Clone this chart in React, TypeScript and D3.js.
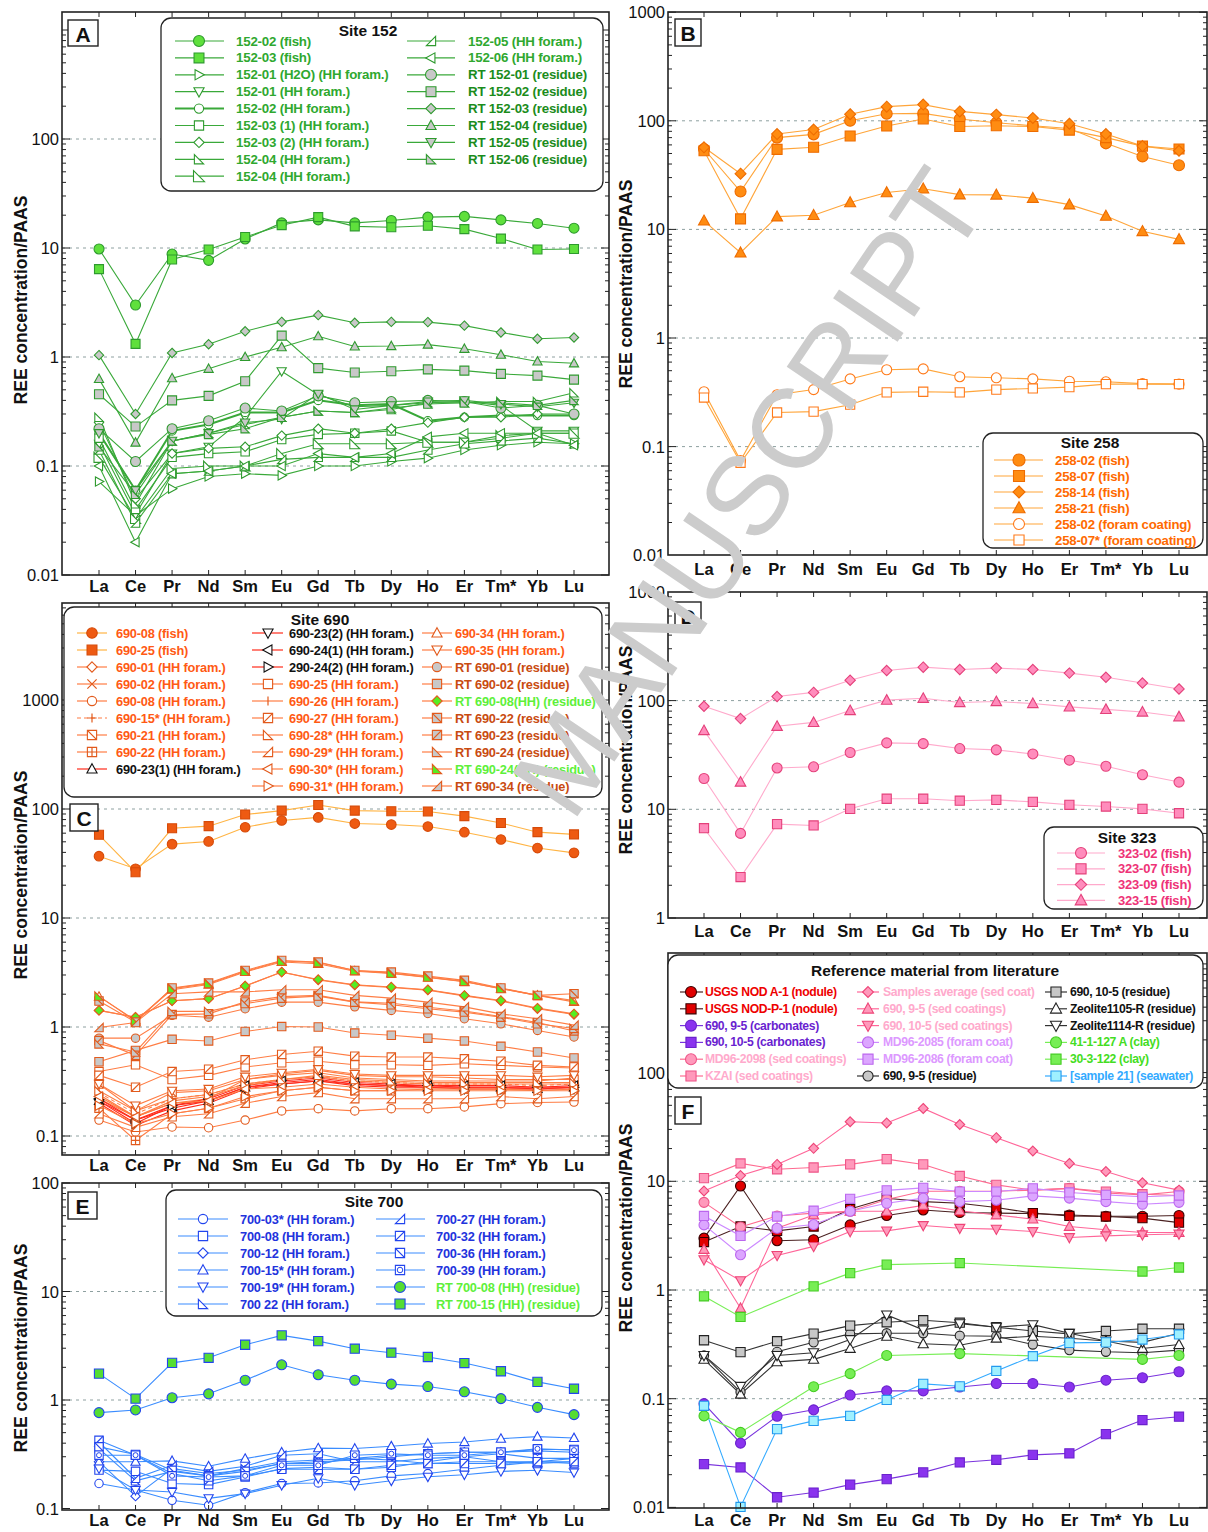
import React from "react";
import * as d3 from "d3";

const ELEMENTS = ["La", "Ce", "Pr", "Nd", "Sm", "Eu", "Gd", "Tb", "Dy", "Ho", "Er", "Tm*", "Yb", "Lu"];

// ---------------- Site 152 (A)
const site152Names = [
  "152-02 (fish)", "152-03 (fish)", "152-01 (H2O) (HH foram.)", "152-01 (HH foram.)", "152-02 (HH foram.)",
  "152-03 (1) (HH foram.)", "152-03 (2) (HH foram.)", "152-04 (HH foram.)", "152-04 (HH foram.)",
  "152-05 (HH foram.)", "152-06 (HH foram.)", "RT 152-01 (residue)", "RT 152-02 (residue)", "RT 152-03 (residue)",
  "RT 152-04 (residue)", "RT 152-05 (residue)", "RT 152-06 (residue)",
];
const site152Values: (number | null)[][] = [
  [9.8, 3.0, 8.8, 7.7, 12.1, 17, 18.1, 17, 17.9, 19.2, 19.5, 18.1, 16.8, 15.2],
  [6.4, 1.32, 7.85, 9.7, 12.6, 16.2, 19.2, 15.8, 15.5, 16, 14.9, 12.2, 9.7, 9.8],
  [0.072, 0.035, 0.062, 0.08, 0.085, 0.082, 0.1, 0.1, 0.11, 0.118, 0.14, 0.155, 0.165, 0.16],
  [0.16, 0.036, 0.13, 0.15, 0.28, 0.74, 0.45, 0.35, 0.36, 0.38, 0.39, 0.36, 0.21, 0.21],
  [0.2, 0.06, 0.21, 0.24, 0.31, 0.31, 0.4, 0.36, 0.37, 0.26, 0.28, 0.29, 0.29, 0.29],
  [0.18, 0.04, 0.12, 0.13, 0.135, 0.175, 0.195, 0.2, 0.21, 0.165, 0.165, 0.18, 0.2, 0.2],
  [0.25, 0.05, 0.13, 0.145, 0.15, 0.19, 0.22, 0.2, 0.22, 0.25, 0.28, 0.28, 0.3, 0.3],
  [0.28, 0.045, 0.17, 0.2, 0.24, 0.28, 0.32, 0.31, 0.33, 0.38, 0.38, 0.39, 0.39, 0.47],
  [0.12, 0.033, 0.095, 0.1, 0.1, 0.13, 0.16, 0.16, 0.16, 0.165, 0.165, 0.19, 0.2, 0.2],
  [0.14, 0.03, 0.085, 0.09, 0.1, 0.115, 0.12, 0.12, 0.12, 0.14, 0.16, 0.17, 0.18, 0.16],
  [0.1, 0.02, 0.085, 0.09, 0.1, 0.1, 0.13, 0.12, 0.13, 0.185, 0.2, 0.2, 0.2, 0.155],
  [0.22, 0.11, 0.22, 0.26, 0.34, 0.32, 0.44, 0.38, 0.39, 0.4, 0.39, 0.34, 0.36, 0.3],
  [0.455, 0.23, 0.4, 0.44, 0.6, 1.57, 0.79, 0.72, 0.74, 0.77, 0.75, 0.7, 0.675, 0.62],
  [1.04, 0.3, 1.09, 1.31, 1.72, 2.1, 2.42, 2.06, 2.1, 2.09, 1.94, 1.68, 1.47, 1.51],
  [0.63, 0.164, 0.64, 0.78, 1.0, 1.23, 1.55, 1.25, 1.26, 1.3, 1.19, 1.05, 0.91, 0.875],
  [0.2, 0.06, 0.17, 0.2, 0.25, 0.27, 0.46, 0.33, 0.36, 0.39, 0.4, 0.37, 0.35, 0.38],
  [0.15, 0.055, 0.17, 0.195, 0.22, 0.28, 0.32, 0.31, 0.34, 0.37, 0.38, 0.38, 0.36, 0.4],
];

// ---------------- Site 258 (B)
const site258Names = ["258-02 (fish)", "258-07 (fish)", "258-14 (fish)", "258-21 (fish)", "258-02 (foram coating)", "258-07* (foram coating)"];
const site258Values: (number | null)[][] = [
  [55, 22.3, 70, 75, 100, 116, 117, 104, 96, 90, 85, 62, 47, 39],
  [53, 12.5, 54.6, 57, 72.5, 89.5, 104, 88.6, 90, 88.6, 82, 70, 58.5, 55],
  [57, 32.6, 75.5, 83, 115, 135, 141, 122, 114, 106, 94, 75.5, 58.5, 53],
  [12, 6.1, 13.1, 13.5, 17.7, 21.9, 23.7, 20.9, 20.8, 19.4, 16.9, 13.3, 9.6, 8.1],
  [0.32, 0.0745, 0.3, 0.335, 0.42, 0.51, 0.52, 0.44, 0.43, 0.42, 0.4, 0.395, 0.38, 0.376],
  [0.283, 0.071, 0.206, 0.21, 0.243, 0.316, 0.32, 0.316, 0.335, 0.343, 0.353, 0.376, 0.376, 0.376],
];

// ---------------- Site 690 (C)
const site690Names = [
  "690-08 (fish)", "690-25 (fish)", "690-01 (HH foram.)", "690-02 (HH foram.)", "690-08 (HH foram.)",
  "690-15* (HH foram.)", "690-21 (HH foram.)", "690-22 (HH foram.)", "690-23(1) (HH foram.)",
  "690-23(2) (HH foram.)", "690-24(1) (HH foram.)", "290-24(2) (HH foram.)", "690-25 (HH foram.)",
  "690-26 (HH foram.)", "690-27 (HH foram.)", "690-28* (HH foram.)", "690-29* (HH foram.)",
  "690-30* (HH foram.)", "690-31* (HH foram.)",
  "690-34 (HH foram.)", "690-35 (HH foram.)", "RT 690-01 (residue)", "RT 690-02 (residue)",
  "RT 690-08(HH) (residue)", "RT 690-22 (residue)", "RT 690-23 (residue)", "RT 690-24 (residue)",
  "RT 690-24(HH) (residue)", "RT 690-34 (residue)",
];
const site690Values: (number | null)[][] = [
  [36.9, 28.3, 47.6, 50.4, 68, 78.4, 83.7, 73.5, 72, 69, 61.3, 52.5, 43.8, 39.6],
  [58, 26.3, 66.5, 69.6, 89, 96.6, 108.9, 96.6, 95.5, 95, 86, 74.5, 61.3, 58.5],
  [1.42, 1.23, 1.74, 1.82, 2.38, 3.19, 2.7, 2.42, 2.3, 2.18, 1.93, 1.73, 1.47, 1.3],
  [0.22, 0.15, 0.2, 0.22, 0.33, 0.36, 0.38, 0.34, 0.33, 0.32, 0.32, 0.32, 0.32, 0.34],
  [0.14, 0.109, 0.121, 0.119, 0.14, 0.17, 0.178, 0.17, 0.178, 0.178, 0.185, 0.198, 0.203, 0.205],
  [0.25, 0.16, 0.22, 0.24, 0.3, 0.33, 0.35, 0.32, 0.31, 0.3, 0.3, 0.3, 0.29, 0.3],
  [0.3, 0.17, 0.25, 0.26, 0.33, 0.37, 0.4, 0.36, 0.35, 0.35, 0.34, 0.33, 0.33, 0.33],
  [0.18, 0.091, 0.16, 0.18, 0.22, 0.26, 0.28, 0.26, 0.26, 0.27, 0.27, 0.27, 0.27, 0.28],
  [0.21, 0.14, 0.18, 0.21, 0.28, 0.31, 0.33, 0.3, 0.29, 0.28, 0.28, 0.28, 0.27, 0.28],
  [0.2, 0.125, 0.17, 0.2, 0.27, 0.3, 0.32, 0.29, 0.28, 0.28, 0.27, 0.27, 0.27, 0.27],
  [0.22, 0.14, 0.19, 0.22, 0.29, 0.32, 0.34, 0.31, 0.3, 0.29, 0.29, 0.29, 0.28, 0.29],
  [0.21, 0.13, 0.19, 0.21, 0.28, 0.3, 0.32, 0.3, 0.29, 0.29, 0.28, 0.28, 0.28, 0.28],
  [0.39, 0.45, 0.33, 0.36, 0.43, 0.47, 0.485, 0.45, 0.45, 0.445, 0.46, 0.445, 0.43, 0.42],
  [0.24, 0.15, 0.21, 0.23, 0.29, 0.33, 0.35, 0.32, 0.31, 0.3, 0.3, 0.3, 0.3, 0.3],
  [0.36, 0.28, 0.39, 0.41, 0.5, 0.56, 0.6, 0.54, 0.53, 0.53, 0.51, 0.485, 0.445, 0.43],
  [0.26, 0.17, 0.22, 0.24, 0.3, 0.33, 0.36, 0.33, 0.32, 0.31, 0.31, 0.31, 0.31, 0.31],
  [0.16, 0.12, 0.15, 0.16, 0.2, 0.23, 0.25, 0.22, 0.22, 0.22, 0.22, 0.23, 0.22, 0.23],
  [0.23, 0.15, 0.2, 0.21, 0.27, 0.28, 0.3, 0.28, 0.27, 0.27, 0.27, 0.27, 0.26, 0.27],
  [0.19, 0.13, 0.16, 0.18, 0.23, 0.26, 0.28, 0.26, 0.26, 0.26, 0.26, 0.26, 0.26, 0.26],
  [1.9, 1.15, 2.2, 2.45, 3.2, 3.95, 3.8, 3.25, 3.1, 2.85, 2.6, 2.25, 1.95, 1.7],
  [0.3, 0.19, 0.26, 0.27, 0.35, 0.38, 0.41, 0.37, 0.36, 0.36, 0.36, 0.36, 0.35, 0.36],
  [0.79, 0.79, 1.28, 1.23, 1.47, 1.69, 1.69, 1.53, 1.42, 1.33, 1.19, 1.07, 0.93, 0.81],
  [0.48, 0.61, 0.77, 0.745, 0.91, 1.01, 1.0, 0.88, 0.84, 0.79, 0.745, 0.665, 0.59, 0.52],
  [1.42, 1.23, 1.74, 1.82, 2.38, 3.19, 2.73, 2.44, 2.33, 2.2, 1.95, 1.75, 1.49, 1.32],
  [1.73, 1.11, 2.28, 2.53, 3.3, 4.08, 3.94, 3.3, 3.19, 2.93, 2.68, 2.28, 1.95, 2.02],
  [0.75, 0.55, 1.3, 1.32, 1.7, 1.9, 1.95, 1.7, 1.65, 1.52, 1.4, 1.25, 1.1, 0.92],
  [0.7, 0.59, 1.39, 1.39, 1.64, 1.84, 1.92, 1.69, 1.6, 1.47, 1.37, 1.23, 1.07, 0.97],
  [1.92, 1.13, 2.25, 2.5, 3.24, 4.03, 3.9, 3.3, 3.12, 2.87, 2.62, 2.25, 1.95, 1.75],
  [0.99, 1.1, 2.02, 2.1, 2.1, 2.2, 2.2, 1.95, 1.84, 1.69, 1.53, 1.32, 1.19, 1.04],
];

// ---------------- Site 323 (D)
const site323Names = ["323-02 (fish)", "323-07 (fish)", "323-09 (fish)", "323-15 (fish)"];
const site323Values: (number | null)[][] = [
  [19.2, 6.0, 24, 24.6, 33.3, 40.8, 40.2, 36.2, 35.2, 32.3, 28.3, 24.9, 20.8, 17.8],
  [6.7, 2.38, 7.3, 7.1, 10.1, 12.5, 12.5, 12, 12.2, 11.7, 11, 10.6, 10.1, 9.2],
  [88.7, 68.3, 109, 119, 154, 189, 203, 193, 199, 193, 179, 164, 145, 128],
  [53, 17.8, 58, 63, 81, 101, 105, 96, 98, 94, 87.5, 83, 78.5, 71],
];

// ---------------- Site 700 (E)
const site700Names = [
  "700-03* (HH foram.)", "700-08 (HH foram.)", "700-12 (HH foram.)", "700-15* (HH foram.)", "700-19* (HH foram.)",
  "700 22 (HH foram.)", "700-27 (HH foram.)", "700-32 (HH foram.)", "700-36 (HH foram.)", "700-39 (HH foram.)",
  "RT 700-08 (HH) (residue)", "RT 700-15 (HH) (residue)",
];
const site700Values: (number | null)[][] = [
  [0.17, 0.148, 0.119, 0.107, 0.14, 0.17, 0.172, 0.18, 0.2, 0.21, 0.23, 0.25, 0.27, 0.29],
  [0.226, 0.22, 0.17, 0.166, 0.195, 0.233, 0.24, 0.23, 0.24, 0.27, 0.3, 0.32, 0.29, 0.29],
  [0.27, 0.13, 0.233, 0.21, 0.225, 0.26, 0.27, 0.28, 0.3, 0.32, 0.33, 0.33, 0.34, 0.33],
  [0.27, 0.27, 0.275, 0.245, 0.288, 0.33, 0.36, 0.357, 0.375, 0.397, 0.41, 0.44, 0.46, 0.447],
  [0.233, 0.148, 0.142, 0.124, 0.137, 0.164, 0.19, 0.164, 0.18, 0.196, 0.205, 0.22, 0.225, 0.215],
  [0.356, 0.18, 0.22, 0.2, 0.233, 0.27, 0.28, 0.29, 0.28, 0.26, 0.27, 0.27, 0.26, 0.27],
  [0.41, 0.19, 0.25, 0.22, 0.245, 0.31, 0.32, 0.27, 0.27, 0.29, 0.3, 0.27, 0.27, 0.26],
  [0.425, 0.31, 0.21, 0.18, 0.2, 0.23, 0.23, 0.23, 0.25, 0.26, 0.26, 0.26, 0.27, 0.27],
  [0.37, 0.315, 0.225, 0.2, 0.22, 0.26, 0.26, 0.29, 0.31, 0.32, 0.33, 0.33, 0.35, 0.35],
  [0.31, 0.31, 0.2, 0.195, 0.2, 0.25, 0.25, 0.31, 0.32, 0.31, 0.31, 0.33, 0.355, 0.345],
  [0.765, 0.81, 1.05, 1.14, 1.52, 2.11, 1.71, 1.52, 1.4, 1.33, 1.19, 1.03, 0.856, 0.733],
  [1.75, 1.03, 2.2, 2.45, 3.23, 3.94, 3.49, 2.97, 2.73, 2.49, 2.19, 1.84, 1.47, 1.27],
];

// ---------------- Reference material (F)
const referenceNames = [
  "USGS NOD A-1 (nodule)", "USGS NOD-P-1 (nodule)", "690, 9-5 (carbonates)", "690, 10-5 (carbonates)",
  "MD96-2098 (sed coatings)", "KZAI (sed coatings)",
  "Samples average (sed coat)", "690, 9-5 (sed coatings)", "690, 10-5 (sed coatings)", "MD96-2085 (foram coat)",
  "MD96-2086 (foram coat)", "690, 9-5 (residue)",
  "690, 10-5 (residue)", "Zeolite1105-R (residue)", "Zeolite1114-R (residue)", "41-1-127 A (clay)",
  "30-3-122 (clay)", "[sample 21] (seawater)",
];
const referenceValues: (number | null)[][] = [
  [3.0, 9.06, 2.84, 2.9, 3.97, 4.85, 5.45, 5.16, 5.1, 5.05, 4.9, 4.77, 4.77, 4.85],
  [2.76, 3.84, 3.5, 3.84, 5.57, 6.98, 6.5, 6.28, 5.74, 5.1, 4.8, 4.74, 4.58, 4.17],
  [0.09, 0.039, 0.069, 0.079, 0.108, 0.118, 0.118, 0.128, 0.138, 0.138, 0.128, 0.148, 0.156, 0.177],
  [0.025, 0.0233, 0.0124, 0.0137, 0.0162, 0.0182, 0.021, 0.0259, 0.0274, 0.0304, 0.0314, 0.0472, 0.0636, 0.0683],
  [6.4, 3.8, 4.8, 5.1, 5.3, 6.8, 8.1, 8.1, 8.1, 8.3, 8.6, 7.8, 7.5, 8.05],
  [10.7, 14.6, 12.9, 13.4, 14.3, 16, 14.3, 11.2, 9.27, 8.3, 8.6, 8.05, 7.6, 7.4],
  [8.15, 11.3, 14.3, 20.1, 35.3, 34.4, 46.8, 33.3, 25.2, 19, 14.6, 12.3, 9.7, 8.3],
  [2.36, 0.68, 3.7, 4.9, 5.3, 5.3, 6.0, 5.35, 4.9, 4.49, 3.84, 3.58, 3.38, 3.38],
  [1.9, 1.22, 2.08, 2.52, 3.45, 3.5, 3.92, 3.7, 3.63, 3.45, 3.04, 3.15, 3.22, 3.27],
  [3.97, 2.11, 3.7, 4.0, 5.3, 6.28, 7.0, 6.5, 6.7, 7.35, 7.0, 6.5, 6.15, 6.4],
  [4.8, 3.15, 4.74, 5.36, 6.9, 8.25, 8.7, 8.05, 8.05, 8.6, 7.9, 7.5, 7.2, 7.4],
  [0.25, 0.115, 0.27, 0.33, 0.395, 0.4, 0.4, 0.38, 0.375, 0.315, 0.28, 0.27, 0.265, 0.28],
  [0.345, 0.268, 0.338, 0.397, 0.47, 0.505, 0.527, 0.5, 0.455, 0.42, 0.395, 0.42, 0.44, 0.44],
  [0.23, 0.11, 0.218, 0.23, 0.29, 0.375, 0.32, 0.31, 0.36, 0.375, 0.36, 0.34, 0.29, 0.315],
  [0.25, 0.13, 0.25, 0.265, 0.35, 0.59, 0.43, 0.49, 0.455, 0.48, 0.4, 0.34, 0.33, 0.4],
  [0.0695, 0.049, null, 0.129, 0.17, 0.25, null, 0.26, null, null, null, null, 0.23, 0.25],
  [0.875, 0.565, null, 1.08, 1.43, 1.71, null, 1.77, null, null, null, null, 1.48, 1.61],
  [0.086, 0.0101, 0.0525, 0.0625, 0.0695, 0.0974, 0.137, 0.13, 0.18, 0.246, 0.326, 0.33, 0.35, 0.39],
];

// ---------------- styles
type St = { shape: string; fill: string; stroke: string; line: string; text: string; r?: number; lw?: number; dash?: string };
const mk = (shape: string, fill: string, stroke: string, line: string, text: string, extra: Partial<St> = {}): St =>
  ({ shape, fill, stroke, line, text, ...extra });

const W = "#ffffff";
const GRAY = "#c8c8c8";

// A
const gS = "#2e9a2e", gL = "#3aa93a", gT = "#2fa82f", gRT = "#1b8c1b", gF = "#5fe03c";
const site152Styles: St[] = [
  mk("circle", gF, gS, gL, gT, { r: 5 }),
  mk("square", gF, gS, gL, gT, { r: 4.5 }),
  mk("triRight", W, gS, gL, gT),
  mk("triDown", W, gS, gL, gT),
  mk("circle", W, gS, gL, gT, { lw: 2 }),
  mk("square", W, gS, gL, gT),
  mk("diamond", W, gS, gL, gT, { r: 3.6 }),
  mk("rtriL", W, gS, gL, gT),
  mk("rtriL", W, gS, gL, gT, { r: 5 }),
  mk("rtriR", W, gS, gL, gT),
  mk("triLeft", W, gS, gL, gT),
  mk("circle", GRAY, gS, gL, gRT, { r: 5 }),
  mk("square", GRAY, gS, gL, gRT, { r: 4.5 }),
  mk("diamond", GRAY, gS, gL, gRT, { r: 3.6 }),
  mk("tri", GRAY, gS, gL, gRT),
  mk("triDown", GRAY, gS, gL, gRT),
  mk("rtriL", GRAY, gS, gL, gRT),
];

// B
const bS = "#ee6c00", bL = "#ffa53a", bF = "#ff8c12", bT = "#ff6a00";
const site258Styles: St[] = [
  mk("circle", bF, bS, bL, bT, { r: 5.5 }),
  mk("square", bF, bS, bL, bT, { r: 5 }),
  mk("diamond", bF, bS, bL, bT, { r: 4.2 }),
  mk("tri", bF, bS, bL, bT, { r: 5 }),
  mk("circle", W, "#ff7a1a", bL, bT, { r: 5 }),
  mk("square", W, "#ff7a1a", bL, bT, { r: 4.6 }),
];

// C
const oS = "#e25a1c", oL = "#ff7d44", oT = "#ff5a14", rT = "#c94b10", grT = "#5ef03a", BL = "#111111", redL = "#ff2a1a";
const fishL = "#ffb444";
const site690Styles: St[] = [
  mk("circle", "#ee5a12", "#d64a08", fishL, oT, { r: 4.8 }),
  mk("square", "#ee5a12", "#d64a08", fishL, oT, { r: 4.5 }),
  mk("diamond", W, oS, oL, oT, { r: 3.6 }),
  mk("x", W, oS, oL, oT),
  mk("circle", W, oS, oL, oT),
  mk("plus", W, oS, oL, oT, { dash: "4,3" }),
  mk("sqBack", W, oS, oL, oT),
  mk("sqPlus", W, oS, oL, oT),
  mk("tri", W, BL, redL, BL),
  mk("triDown", W, BL, redL, BL),
  mk("triLeft", W, BL, redL, BL),
  mk("triRight", W, BL, redL, BL),
  mk("square", W, oS, oL, oT),
  mk("vbar", W, oS, oL, oT),
  mk("sqSlash", W, oS, oL, oT),
  mk("rtriL", W, oS, oL, oT),
  mk("rtriR", W, oS, oL, oT),
  mk("triLeft", W, oS, oL, oT),
  mk("triRight", W, oS, oL, oT),
  mk("tri", W, oS, oL, oT),
  mk("triDown", W, oS, oL, oT),
  mk("circle", GRAY, oS, oL, rT),
  mk("square", GRAY, oS, oL, rT),
  mk("diamond", "#55ee22", oS, oL, grT, { r: 3.6 }),
  mk("sqBack", GRAY, oS, oL, rT),
  mk("sqSlash", GRAY, oS, oL, rT),
  mk("rtriL", GRAY, oS, oL, rT),
  mk("rtriL", "#55ee22", oS, oL, grT),
  mk("rtriR", GRAY, oS, oL, rT),
];

// D
const dS = "#e4407a", dL = "#ffaacc", dF = "#ff8cbc", dT = "#ee3377";
const site323Styles: St[] = [
  mk("circle", dF, dS, dL, dT, { r: 5 }),
  mk("square", dF, dS, dL, dT, { r: 4.6 }),
  mk("diamond", dF, dS, dL, dT, { r: 4 }),
  mk("tri", dF, dS, dL, dT, { r: 4.8 }),
];

// E
const eS = "#2245ee", eL = "#3a8cff", eT = "#2233dd", eG = "#55dd33", eGT = "#5ef03a";
const site700Styles: St[] = [
  mk("circle", W, eS, eL, eT),
  mk("square", W, eS, eL, eT),
  mk("diamond", W, eS, eL, eT, { r: 3.6 }),
  mk("tri", W, eS, eL, eT),
  mk("triDown", W, eS, eL, eT),
  mk("rtriL", W, eS, eL, eT),
  mk("rtriR", W, eS, eL, eT),
  mk("sqSlash", W, eS, eL, eT),
  mk("sqBack", W, eS, eL, eT),
  mk("sqCircle", W, eS, eL, eT),
  mk("circle", eG, eS, eL, eGT, { r: 5 }),
  mk("square", eG, eS, eL, eGT, { r: 4.6 }),
];

// F
const referenceStyles: St[] = [
  mk("circle", "#e00000", "#3a0000", "#4a2020", "#ee0000", { r: 5 }),
  mk("square", "#e00000", "#3a0000", "#4a2020", "#ee0000", { r: 4.6 }),
  mk("circle", "#8a33ee", "#6a22cc", "#7a33dd", "#6a1fd0", { r: 5 }),
  mk("square", "#8a33ee", "#6a22cc", "#7a33dd", "#6a1fd0", { r: 4.6 }),
  mk("circle", "#ff99bb", "#ee5588", "#ff6a90", "#ffaacc", { r: 5 }),
  mk("square", "#ff99bb", "#ee5588", "#ff6a90", "#ffaacc", { r: 4.6 }),
  mk("diamond", "#ff99bb", "#ee4477", "#ff6699", "#ffaacc", { r: 3.8 }),
  mk("tri", "#ff99bb", "#ee4477", "#ff6699", "#ffaacc", { r: 4.6 }),
  mk("triDown", "#ff99bb", "#ee4477", "#ff6699", "#ffaacc", { r: 4.6 }),
  mk("circle", "#dca6ff", "#bb66ee", "#cc88ff", "#dd99ff", { r: 5 }),
  mk("square", "#dca6ff", "#bb66ee", "#cc88ff", "#dd99ff", { r: 4.6 }),
  mk("circle", GRAY, "#222222", "#333333", "#111111", { r: 4.6 }),
  mk("square", GRAY, "#222222", "#333333", "#111111", { r: 4.6 }),
  mk("tri", W, "#222222", "#333333", "#111111", { r: 4.6 }),
  mk("triDown", W, "#222222", "#333333", "#111111", { r: 4.6 }),
  mk("circle", "#77ee55", "#44cc22", "#77ee55", "#44dd22", { r: 5 }),
  mk("square", "#77ee55", "#44cc22", "#77ee55", "#44dd22", { r: 4.6 }),
  mk("square", "#9ff0ff", "#2299ee", "#33aaff", "#33aaff", { r: 4.6 }),
];

// ---------------- layout
type Col = { from: number; to: number; mx: number; l1: number; l2: number; tx: number };
type Cfg = {
  x0: number; x1: number; y0: number; y1: number; refY: number; dp: number; xFirst: number; xLast: number;
  labels: number[]; grids: number[]; xLabelY: number; letter: string; letterBox: number[];
  titleX: number; titleY: number;
  legend: { box: number[]; title: string; tx: number; ty: number; row0: number; dy: number; cols: Col[]; fs?: number; ls?: number };
};

const cfgA: Cfg = {
  x0: 62, x1: 609, y0: 12, y1: 575, refY: 357, dp: 109, xFirst: 99, xLast: 574,
  labels: [0.01, 0.1, 1, 10, 100], grids: [0.1, 1, 10, 100], xLabelY: 586, letter: "A", letterBox: [68, 20, 30, 26],
  titleX: 21, titleY: 300,
  legend: {
    box: [161, 18, 442, 173], title: "Site 152", tx: 368, ty: 36, row0: 41, dy: 16.9, fs: 13.3,
    cols: [{ from: 0, to: 9, mx: 199, l1: 175, l2: 224, tx: 236 }, { from: 9, to: 17, mx: 431, l1: 407, l2: 455, tx: 468 }],
  },
};
const cfgB: Cfg = {
  x0: 668, x1: 1207, y0: 12, y1: 555, refY: 338, dp: 108.6, xFirst: 704, xLast: 1179,
  labels: [0.01, 0.1, 1, 10, 100, 1000], grids: [0.1, 1, 10, 100], xLabelY: 569, letter: "B", letterBox: [675, 19, 26, 27],
  titleX: 626, titleY: 284,
  legend: {
    box: [983, 433, 220, 115], title: "Site 258", tx: 1090, ty: 448, row0: 460, dy: 16, fs: 13.2,
    cols: [{ from: 0, to: 6, mx: 1019, l1: 994, l2: 1043, tx: 1055 }],
  },
};
const cfgC: Cfg = {
  x0: 62, x1: 609, y0: 603, y1: 1155, refY: 1027, dp: 109, xFirst: 99, xLast: 574,
  labels: [0.1, 1, 10, 100, 1000], grids: [0.1, 1, 10, 100], xLabelY: 1165, letter: "C", letterBox: [70, 804, 28, 27],
  titleX: 21, titleY: 875,
  legend: {
    box: [64, 607, 538, 190], title: "Site 690", tx: 320, ty: 625, row0: 633, dy: 17, fs: 12.8,
    cols: [
      { from: 0, to: 9, mx: 92, l1: 77, l2: 107, tx: 116 },
      { from: 9, to: 19, mx: 268, l1: 252, l2: 283, tx: 289 },
      { from: 19, to: 29, mx: 437, l1: 422, l2: 452, tx: 455 },
    ],
  },
};
const cfgD: Cfg = {
  x0: 668, x1: 1207, y0: 592, y1: 918, refY: 918, dp: 108.7, xFirst: 704, xLast: 1179,
  labels: [1, 10, 100, 1000], grids: [10, 100], xLabelY: 931, letter: "D", letterBox: [675, 602, 26, 27],
  titleX: 626, titleY: 750,
  legend: {
    box: [1044, 827, 159, 82], title: "Site 323", tx: 1127, ty: 843, row0: 853, dy: 15.8, fs: 13,
    cols: [{ from: 0, to: 4, mx: 1081, l1: 1057, l2: 1105, tx: 1118 }],
  },
};
const cfgE: Cfg = {
  x0: 62, x1: 609, y0: 1183, y1: 1510, refY: 1400, dp: 108.5, xFirst: 99, xLast: 574,
  labels: [0.1, 1, 10, 100], grids: [1, 10], xLabelY: 1520, letter: "E", letterBox: [68, 1192, 29, 27],
  titleX: 21, titleY: 1348,
  legend: {
    box: [166, 1190, 436, 126], title: "Site 700", tx: 374, ty: 1207, row0: 1219, dy: 17, fs: 12.8,
    cols: [{ from: 0, to: 6, mx: 203, l1: 178, l2: 228, tx: 240 }, { from: 6, to: 12, mx: 400, l1: 376, l2: 425, tx: 436 }],
  },
};
const cfgF: Cfg = {
  x0: 668, x1: 1207, y0: 953, y1: 1508, refY: 1290, dp: 108.7, xFirst: 704, xLast: 1179,
  labels: [0.01, 0.1, 1, 10, 100], grids: [0.1, 1, 10], xLabelY: 1520, letter: "F", letterBox: [675, 1097, 26, 27],
  titleX: 626, titleY: 1228,
  legend: {
    box: [668, 955, 535, 133], title: "Reference material from literature", tx: 935, ty: 976, row0: 992, dy: 16.8, fs: 12.2, ls: -0.35,
    cols: [
      { from: 0, to: 6, mx: 691, l1: 680, l2: 703, tx: 705 },
      { from: 6, to: 12, mx: 868, l1: 857, l2: 879, tx: 883 },
      { from: 12, to: 18, mx: 1056, l1: 1045, l2: 1067, tx: 1070 },
    ],
  },
};

const FONT = "'Liberation Sans', Arial, Helvetica, sans-serif";

function Marker({ shape, x, y, r, fill, stroke }: { shape: string; x: number; y: number; r: number; fill: string; stroke: string }) {
  const sq = `M${-r},${-r}H${r}V${r}H${-r}Z`;
  let d = "";
  let extra = "";
  let inner = 0;
  let open = false;
  switch (shape) {
    case "circle":
      return <circle cx={x} cy={y} r={r} fill={fill} stroke={stroke} strokeWidth={1.1} />;
    case "square": d = sq; break;
    case "diamond": { const q = r * 1.3; d = `M0,${-q}L${q},0L0,${q}L${-q},0Z`; break; }
    case "tri": d = `M0,${-r * 1.15}L${r * 1.1},${r * 0.85}L${-r * 1.1},${r * 0.85}Z`; break;
    case "triDown": d = `M0,${r * 1.15}L${r * 1.1},${-r * 0.85}L${-r * 1.1},${-r * 0.85}Z`; break;
    case "triLeft": d = `M${-r * 1.15},0L${r * 0.85},${-r * 1.1}L${r * 0.85},${r * 1.1}Z`; break;
    case "triRight": d = `M${r * 1.15},0L${-r * 0.85},${-r * 1.1}L${-r * 0.85},${r * 1.1}Z`; break;
    case "rtriL": d = `M${-r},${-r}L${-r},${r}L${r},${r}Z`; break;
    case "rtriR": d = `M${r},${-r}L${r},${r}L${-r},${r}Z`; break;
    case "sqSlash": d = sq; extra = `M${-r},${r}L${r},${-r}`; break;
    case "sqBack": d = sq; extra = `M${-r},${-r}L${r},${r}`; break;
    case "sqPlus": d = sq; extra = `M0,${-r}V${r}M${-r},0H${r}`; break;
    case "sqCircle": d = sq; inner = r * 0.6; break;
    case "x": open = true; extra = `M${-r},${-r}L${r},${r}M${-r},${r}L${r},${-r}`; break;
    case "plus": open = true; extra = `M0,${-r}V${r}M${-r},0H${r}`; break;
    case "vbar": open = true; extra = `M0,${-r}V${r}`; break;
    default: d = sq;
  }
  return (
    <g transform={`translate(${x},${y})`}>
      {!open && <path d={d} fill={fill} stroke={stroke} strokeWidth={1.1} strokeLinejoin="miter" />}
      {inner > 0 && <circle r={inner} fill="none" stroke={stroke} strokeWidth={1} />}
      {extra && <path d={extra} fill="none" stroke={stroke} strokeWidth={1.2} />}
    </g>
  );
}

function Panel({ cfg, names, values, styles }: { cfg: Cfg; names: string[]; values: (number | null)[][]; styles: St[] }) {
  const { x0, x1, y0, y1, refY, dp } = cfg;
  const lo = Math.pow(10, -(y1 - refY) / dp);
  const hi = Math.pow(10, (refY - y0) / dp);
  const y = d3.scaleLog().domain([lo, hi]).range([y1, y0]);
  const x = d3.scalePoint<string>().domain(ELEMENTS).range([cfg.xFirst, cfg.xLast]);
  const line = d3.line<[string, number]>().x((d) => x(d[0]) as number).y((d) => y(d[1]));

  const ticks: { v: number; major: boolean }[] = [];
  for (let k = Math.floor(Math.log10(lo)); k <= Math.ceil(Math.log10(hi)); k++) {
    for (let m = 1; m <= 9; m++) {
      const v = m * Math.pow(10, k);
      if (v >= lo * 0.999 && v <= hi * 1.001) ticks.push({ v, major: m === 1 });
    }
  }
  const series = values.map((vals) =>
    ELEMENTS.map((e, i) => [e, vals[i]] as [string, number | null]).filter((d) => d[1] != null) as [string, number][]
  );
  const lg = cfg.legend;
  const fs = lg.fs ?? 12.6;
  const ls = lg.ls ?? -0.2;
  const [lx, ly, lw, lh] = cfg.letterBox;
  const fmt = (v: number) => String(v);

  return (
    <g>
      <rect x={x0} y={y0} width={x1 - x0} height={y1 - y0} fill="#fff" />
      {cfg.grids.map((g) => (
        <line key={g} x1={x0} x2={x1} y1={y(g)} y2={y(g)} stroke="#8ea0a0" strokeWidth={1} strokeDasharray="3,4" />
      ))}
      {series.map((pts, i) => (
        <path key={"l" + i} d={line(pts) || ""} fill="none" stroke={styles[i].line} strokeWidth={styles[i].lw ?? 1.1}
          strokeDasharray={styles[i].dash} />
      ))}
      {series.map((pts, i) => (
        <g key={"m" + i}>
          {pts.map((d, j) => (
            <Marker key={j} shape={styles[i].shape} x={x(d[0]) as number} y={y(d[1])} r={styles[i].r ?? 4.2}
              fill={styles[i].fill} stroke={styles[i].stroke} />
          ))}
        </g>
      ))}
      <rect x={x0} y={y0} width={x1 - x0} height={y1 - y0} fill="none" stroke="#222" strokeWidth={1.6} />
      {ticks.map((t, i) => (
        <g key={"t" + i}>
          <line x1={x0} x2={x0 + (t.major ? 8 : 4)} y1={y(t.v)} y2={y(t.v)} stroke="#222" strokeWidth={1} />
          <line x1={x1} x2={x1 - (t.major ? 8 : 4)} y1={y(t.v)} y2={y(t.v)} stroke="#222" strokeWidth={1} />
        </g>
      ))}
      {ELEMENTS.map((e) => (
        <g key={"xt" + e}>
          <line x1={x(e)} x2={x(e)} y1={y0} y2={y0 + 5} stroke="#222" strokeWidth={1} />
          <line x1={x(e)} x2={x(e)} y1={y1} y2={y1 - 5} stroke="#222" strokeWidth={1} />
          <text x={x(e)} y={cfg.xLabelY} textAnchor="middle" dominantBaseline="central" fontSize={16.5}
            fontWeight="bold" fill="#111">{e}</text>
        </g>
      ))}
      {cfg.labels.map((v) => (
        <text key={"yl" + v} x={x0 - 3} y={y(v)} textAnchor="end" dominantBaseline="central" fontSize={16.5}
          fill="#111">{fmt(v)}</text>
      ))}
      <text transform={`translate(${cfg.titleX},${cfg.titleY}) rotate(-90)`} textAnchor="middle" dominantBaseline="central"
        fontSize={17.5} fontWeight="bold" fill="#111">REE concentration/PAAS</text>
      <rect x={lg.box[0]} y={lg.box[1]} width={lg.box[2]} height={lg.box[3]} rx={10} ry={10} fill="#fff" stroke="#222"
        strokeWidth={1.3} />
      <text x={lg.tx} y={lg.ty} textAnchor="middle" fontSize={15.5} fontWeight="bold" fill="#111">{lg.title}</text>
      {lg.cols.map((c, ci) => (
        <g key={"c" + ci}>
          {names.slice(c.from, c.to).map((n, k) => {
            const i = c.from + k;
            const ry = lg.row0 + k * lg.dy;
            const s = styles[i];
            return (
              <g key={n + i}>
                <line x1={c.l1} x2={c.l2} y1={ry} y2={ry} stroke={s.line} strokeWidth={s.lw ?? 1.2} strokeDasharray={s.dash} />
                <Marker shape={s.shape} x={c.mx} y={ry} r={(s.r ?? 4.2) * 1.1} fill={s.fill} stroke={s.stroke} />
                <text x={c.tx} y={ry} dominantBaseline="central" fontSize={fs} fontWeight="bold" fill={s.text}
                  letterSpacing={ls}>{n}</text>
              </g>
            );
          })}
        </g>
      ))}
      <rect x={lx} y={ly} width={lw} height={lh} fill="#fff" stroke="#222" strokeWidth={1.4} />
      <text x={lx + lw / 2} y={ly + lh / 2 + 1} textAnchor="middle" dominantBaseline="central" fontSize={21}
        fontWeight="bold" fill="#111">{cfg.letter}</text>
    </g>
  );
}

export default function App() {
  return (
    <svg width={1208} height={1532} viewBox="0 0 1208 1532" fontFamily={FONT}
      style={{ position: "absolute", left: 0, top: 0, background: "#fff" }}>
      <rect width={1208} height={1532} fill="#fff" />
      <Panel cfg={cfgA} names={site152Names} values={site152Values} styles={site152Styles} />
      <Panel cfg={cfgB} names={site258Names} values={site258Values} styles={site258Styles} />
      <Panel cfg={cfgC} names={site690Names} values={site690Values} styles={site690Styles} />
      <Panel cfg={cfgD} names={site323Names} values={site323Values} styles={site323Styles} />
      <Panel cfg={cfgE} names={site700Names} values={site700Values} styles={site700Styles} />
      <Panel cfg={cfgF} names={referenceNames} values={referenceValues} styles={referenceStyles} />
      <text transform="translate(748,492) rotate(-56)" y={40} textAnchor="middle" fontSize={113} fill="#cccccc"
        fontFamily={FONT}>MANUSCRIPT</text>
    </svg>
  );
}
